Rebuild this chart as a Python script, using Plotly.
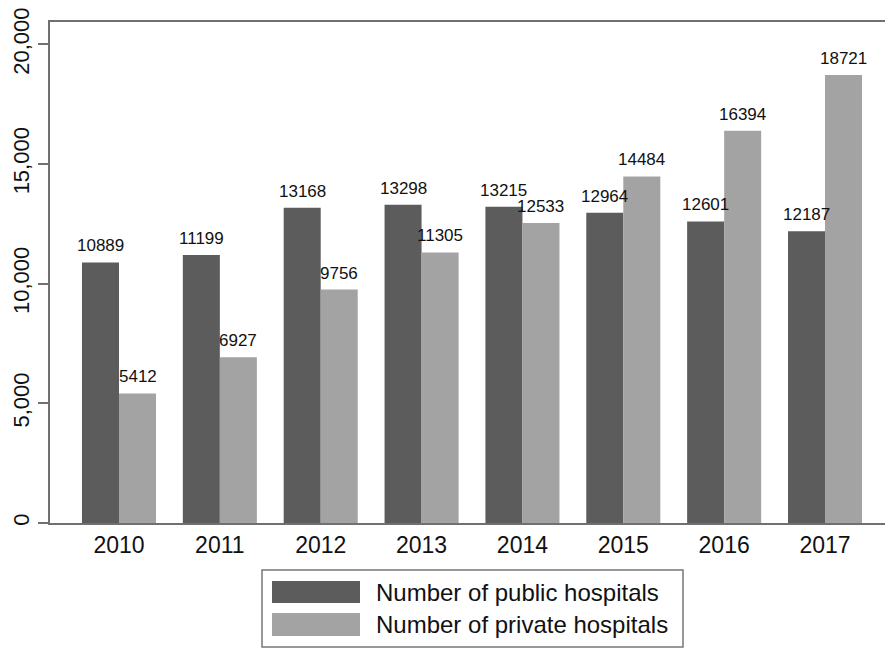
import plotly.graph_objects as go

years = ["2010", "2011", "2012", "2013", "2014", "2015", "2016", "2017"]
public = [10889, 11199, 13168, 13298, 13215, 12964, 12601, 12187]
private = [5412, 6927, 9756, 11305, 12533, 14484, 16394, 18721]
series_names = ["Number of public hospitals", "Number of private hospitals"]
y_ticks = [0, 5000, 10000, 15000, 20000]

DARK = "#5c5c5c"
LIGHT = "#a3a3a3"
AXIS = "#707070"
FONT = "Liberation Sans, Arial, sans-serif"

# page body has an 8px default margin; size the figure so it ends at the window edge
OFF = 8
W, H = 893 - OFF, 650 - OFF
ML, MR, MT = 50 - OFF, 0, 22 - OFF
MB = H - (523 - OFF)
PW, PH = W - ML - MR, H - MT - MB

def px(x):
    return (x - OFF - ML) / PW

def py(y):
    return (H - MB - (y - OFF)) / PH

BARGAP = 0.266

fig = go.Figure()
for vals, name, col in [(public, series_names[0], DARK), (private, series_names[1], LIGHT)]:
    fig.add_trace(go.Bar(x=years, y=vals, name=name, marker=dict(color=col, line=dict(width=0)),
                         showlegend=False))

# value labels above bars
bw = (1 - BARGAP) / 2
annotations = []
for i, y in enumerate(years):
    for vals, off in [(public, -bw / 2), (private, bw / 2)]:
        annotations.append(dict(x=i + off, y=vals[i], xref="x", yref="y", text=str(vals[i]),
                                showarrow=False, yanchor="bottom", yshift=5,
                                font=dict(family=FONT, size=17, color="#111")))

# legend drawn manually
shapes = [
    dict(type="rect", xref="paper", yref="paper", x0=px(262), x1=px(683), y0=py(570), y1=py(647),
         line=dict(color="#777", width=1.5), fillcolor="white", layer="above"),
    dict(type="rect", xref="paper", yref="paper", x0=px(272), x1=px(360), y0=py(581), y1=py(603),
         line=dict(width=0), fillcolor=DARK),
    dict(type="rect", xref="paper", yref="paper", x0=px(272), x1=px(360), y0=py(613), y1=py(636),
         line=dict(width=0), fillcolor=LIGHT),
]
for name, yc in [(series_names[0], 592), (series_names[1], 624)]:
    annotations.append(dict(x=px(374), y=py(yc), xref="paper", yref="paper", text=name,
                            showarrow=False, xanchor="left", yanchor="middle",
                            font=dict(family=FONT, size=24, color="#111")))

fig.update_layout(
    width=W, height=H,
    margin=dict(l=ML, r=MR, t=MT, b=MB),
    paper_bgcolor="white", plot_bgcolor="white",
    barmode="group", bargap=BARGAP, bargroupgap=0,
    font=dict(family=FONT, color="#111"),
    annotations=annotations, shapes=shapes,
    showlegend=False,
)
fig.update_xaxes(type="category", range=[-0.684, 7.674], showgrid=False, showline=True,
                 linecolor=AXIS, linewidth=2, mirror=True, ticks="",
                 tickfont=dict(family=FONT, size=23, color="#111"))
fig.update_yaxes(range=[0, 20935], tickvals=y_ticks, ticktext=[f"{v:,}" for v in y_ticks],
                 tickangle=-90, showgrid=False, zeroline=False, showline=True,
                 linecolor=AXIS, linewidth=2, mirror=True, ticks="outside", ticklen=10,
                 tickcolor=AXIS, tickwidth=1.5, automargin=False, ticklabeloverflow="allow",
                 tickfont=dict(family=FONT, size=22, color="#111"))

fig.write_html("out.html")
